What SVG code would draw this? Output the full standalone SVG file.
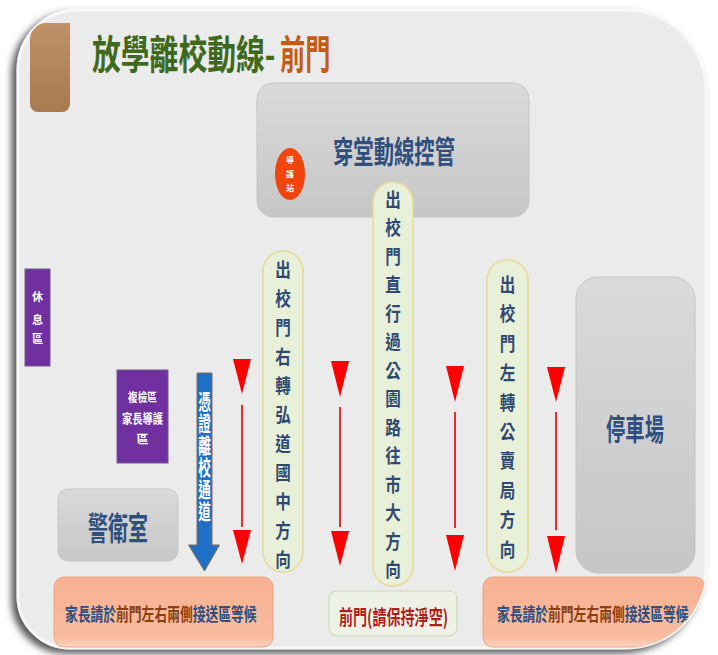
<svg xmlns="http://www.w3.org/2000/svg" width="718" height="655" viewBox="0 0 718 655">
<defs>
<style>
.cjk{font-family:"Noto Sans CJK TC","Noto Sans CJK SC",sans-serif;font-weight:700}
.blue{fill:#2f4f7f}
.brn{fill:#8b3f12}
.pill{fill:#e9f0da;stroke:#e6dc98;stroke-width:1.5}
.pilltxt{font-size:19px;fill:#2f4a72}
.wtxt{fill:#ffffff}
.tri{fill:#ff0000}
.dline{stroke:#e03030;stroke-width:2}
.purple{fill:#7030a0;stroke:#6a5a8a;stroke-width:1}
.wait{font-size:18px}
</style>
<linearGradient id="gGray" x1="0" y1="0" x2="0" y2="1"><stop offset="0" stop-color="#dadada"/><stop offset="1" stop-color="#c6c6c6"/></linearGradient>
<linearGradient id="gOrange" x1="0" y1="0" x2="0" y2="1"><stop offset="0" stop-color="#f7b193"/><stop offset="0.85" stop-color="#f8bb9f"/><stop offset="1" stop-color="#fbd2bf"/></linearGradient>
<linearGradient id="gBrown" x1="0" y1="0" x2="0" y2="1"><stop offset="0" stop-color="#c09166"/><stop offset="1" stop-color="#a77a4f"/></linearGradient>
<filter id="shadow" x="-5%" y="-5%" width="110%" height="110%"><feDropShadow dx="-5" dy="4" stdDeviation="3.5" flood-color="#444" flood-opacity="0.9"/></filter>
<clipPath id="panelClip"><path d="M78,10 H626 A80,80 0 0 1 706,90 V568 A80,80 0 0 1 626,648 H70 A52,52 0 0 1 18,596 V70 A60,60 0 0 1 78,10 Z"/></clipPath>
</defs>
<rect width="718" height="655" fill="#ffffff"/>
<path id="panel" d="M78,10 H626 A80,80 0 0 1 706,90 V568 A80,80 0 0 1 626,648 H70 A52,52 0 0 1 18,596 V70 A60,60 0 0 1 78,10 Z" fill="#ebebeb" stroke="#f8f8f8" stroke-width="3" filter="url(#shadow)"/>
<g clip-path="url(#panelClip)">
<g id="tab"><path d="M46,23 H70 V104 A8,8 0 0 1 62,112 H38 A8,8 0 0 1 30,104 V39 A16,16 0 0 1 46,23 Z" fill="url(#gBrown)"/></g>
<g id="title">
<text class="cjk" transform="translate(92,69) scale(0.72,1)" font-size="40" fill="#3f6a1e">放學離校動線-</text>
<text class="cjk" transform="translate(280,69) scale(0.63,1)" font-size="40" fill="#c55a11">前門</text>
</g>
<g id="hall">
<rect x="257" y="83" width="272" height="134" rx="16" fill="url(#gGray)" stroke="#c4c4c4"/>
<text class="cjk blue" transform="translate(333,163) scale(0.656,1)" font-size="31">穿堂動線控管</text>
</g>
<g id="redOval">
<ellipse cx="290" cy="174" rx="15" ry="26" fill="#f2440f"/>
<text class="cjk wtxt" font-size="8" text-anchor="middle"><tspan x="290" y="163">導</tspan><tspan x="290" y="177">護</tspan><tspan x="290" y="191">站</tspan></text>
</g>
<g id="rest">
<rect class="purple" x="25" y="269" width="25" height="97"/>
<text class="cjk wtxt" font-size="11" text-anchor="middle"><tspan x="37.5" y="301">休</tspan><tspan x="37.5" y="324">息</tspan><tspan x="37.5" y="343">區</tspan></text>
</g>
<g id="recheck">
<rect class="purple" x="117" y="370" width="51" height="93"/>
<text class="cjk wtxt" font-size="12" transform="translate(142.5,402) scale(0.8,1)" text-anchor="middle">複檢區</text>
<text class="cjk wtxt" font-size="13" transform="translate(142.5,423) scale(0.79,1)" text-anchor="middle">家長導護</text>
<text class="cjk wtxt" font-size="12" x="142.5" y="444" text-anchor="middle">區</text>
</g>
<g id="guard">
<rect x="58" y="489" width="120" height="72" rx="10" fill="url(#gGray)" stroke="#c8c8c8"/>
<text class="cjk blue" transform="translate(118,540) scale(0.625,1)" font-size="32" text-anchor="middle">警衛室</text>
</g>
<g id="parking">
<rect x="576" y="277" width="119" height="296" rx="22" fill="url(#gGray)" stroke="#c4c4c4"/>
<text class="cjk blue" transform="translate(635,440) scale(0.644,1)" font-size="30" text-anchor="middle">停車場</text>
</g>
<g id="exitPath">
<path d="M197,373 H212 V545 H219.5 L204.5,571 L188.5,545 H197 Z" fill="#1f6fc4" stroke="#8a6a50" stroke-width="1"/>
<text class="cjk wtxt" font-size="21" writing-mode="vertical-rl" letter-spacing="1" transform="translate(204.5,391) scale(0.6,1)" x="0" y="0">憑證離校通道</text>
</g>
<g id="connectors">
<polygon class="tri" points="233,359 251,359 242,394"/><line class="dline" x1="242" y1="405" x2="242" y2="527"/><polygon class="tri" points="233,530 251,530 242,564"/>
<polygon class="tri" points="331,361 349,361 340,397"/><line class="dline" x1="340" y1="407" x2="340" y2="527"/><polygon class="tri" points="331,531 349,531 340,566"/>
<polygon class="tri" points="446,366 464,366 455,402"/><line class="dline" x1="455" y1="412" x2="455" y2="528"/><polygon class="tri" points="446,535 464,535 455,571"/>
<polygon class="tri" points="547,367 565,367 556,402"/><line class="dline" x1="556" y1="412" x2="556" y2="530"/><polygon class="tri" points="547,536 565,536 556,573"/>
</g>
<g id="pill1">
<rect class="pill" x="263" y="251" width="40" height="321" rx="20"/>
<g transform="translate(283,0) scale(0.82,1)"><text class="cjk pilltxt" text-anchor="middle"><tspan x="0" y="277">出</tspan><tspan x="0" y="306">校</tspan><tspan x="0" y="335">門</tspan><tspan x="0" y="364">右</tspan><tspan x="0" y="393">轉</tspan><tspan x="0" y="422">弘</tspan><tspan x="0" y="451">道</tspan><tspan x="0" y="480">國</tspan><tspan x="0" y="509">中</tspan><tspan x="0" y="538">方</tspan><tspan x="0" y="567">向</tspan></text></g>
</g>
<g id="pill2">
<rect class="pill" x="373" y="182" width="40" height="404" rx="20"/>
<g transform="translate(393,0) scale(0.82,1)"><text class="cjk pilltxt" text-anchor="middle"><tspan x="0" y="207">出</tspan><tspan x="0" y="235.5">校</tspan><tspan x="0" y="264">門</tspan><tspan x="0" y="292.5">直</tspan><tspan x="0" y="321">行</tspan><tspan x="0" y="349.5">過</tspan><tspan x="0" y="378">公</tspan><tspan x="0" y="406.5">園</tspan><tspan x="0" y="435">路</tspan><tspan x="0" y="463.5">往</tspan><tspan x="0" y="492">市</tspan><tspan x="0" y="520.5">大</tspan><tspan x="0" y="549">方</tspan><tspan x="0" y="577.5">向</tspan></text></g>
</g>
<g id="pill3">
<rect class="pill" x="487" y="260" width="41" height="312" rx="20"/>
<g transform="translate(507.5,0) scale(0.82,1)"><text class="cjk pilltxt" text-anchor="middle"><tspan x="0" y="292">出</tspan><tspan x="0" y="321.4">校</tspan><tspan x="0" y="350.8">門</tspan><tspan x="0" y="380.2">左</tspan><tspan x="0" y="409.6">轉</tspan><tspan x="0" y="439">公</tspan><tspan x="0" y="468.4">賣</tspan><tspan x="0" y="497.8">局</tspan><tspan x="0" y="527.2">方</tspan><tspan x="0" y="556.6">向</tspan></text></g>
</g>
<g id="waitLeft">
<rect x="54" y="577" width="219" height="70" rx="10" fill="url(#gOrange)" stroke="#f0a07c"/>
<text class="cjk wait blue" transform="translate(65,621) scale(0.71,1)">家長請於<tspan class="brn">前門左右兩側</tspan>接送區等候</text>
</g>
<g id="gate">
<rect x="329" y="591" width="128" height="45" rx="8" fill="#eef2e6" stroke="#c9d6ad"/>
<text class="cjk" x="339" y="625" font-size="20" fill="#b01e1e" textLength="109" lengthAdjust="spacingAndGlyphs">前門(請保持淨空)</text>
</g>
<g id="waitRight">
<rect x="483" y="577" width="222" height="70" rx="10" fill="url(#gOrange)" stroke="#f0a07c"/>
<text class="cjk wait blue" transform="translate(497,621) scale(0.71,1)">家長請於<tspan class="brn">前門左右兩側</tspan>接送區等候</text>
</g>
</g>
</svg>
